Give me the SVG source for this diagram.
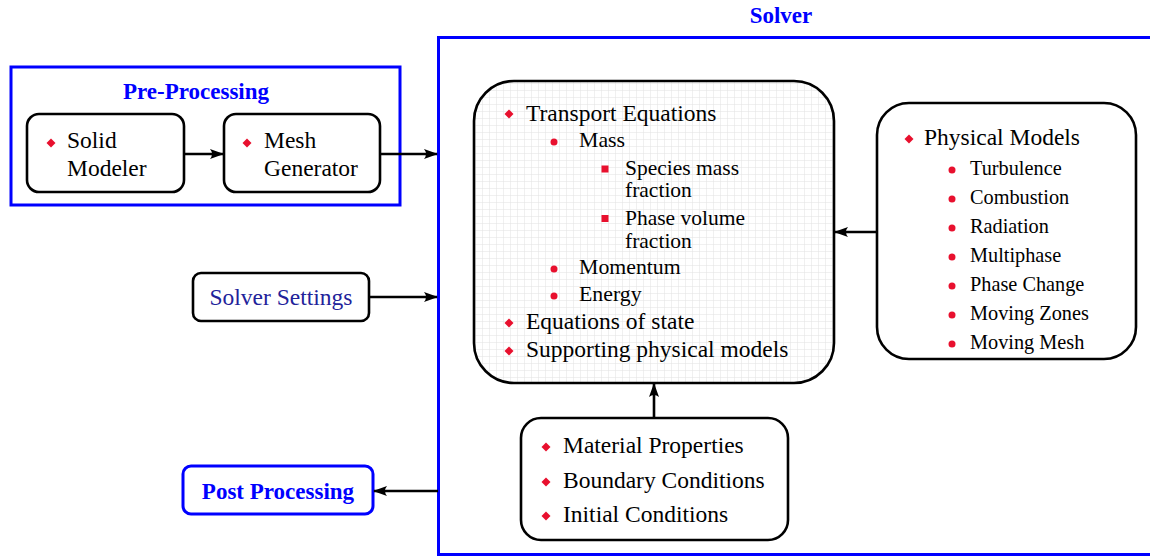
<svg xmlns="http://www.w3.org/2000/svg" width="1150" height="556" viewBox="0 0 1150 556">
  <style>
    text { font-family: "Liberation Serif", "Times New Roman", serif; fill: #000; }
    .t23 { font-size: 23.5px; }
    .t22 { font-size: 21.8px; }
    .t21 { font-size: 21.5px; }
    .t20 { font-size: 20.3px; }
    .title { font-size: 23px; font-weight: bold; fill: #0000ff; }
    .mid { text-anchor: middle; }
    .settings { font-size: 23.5px; fill: #22229a; }
    .frame { fill: none; stroke: #0000ff; stroke-width: 3; }
    .box { fill: #fff; stroke: #000; stroke-width: 2.6; }
    .bluebox { fill: #fff; stroke: #0000ff; stroke-width: 3; }
    .red { fill: #e8102e; }
    .conn { stroke: #000; stroke-width: 2.6; fill: none; marker-end: url(#arrow); }
  </style>
  <defs>
    <marker id="arrow" markerWidth="14" markerHeight="10" refX="13" refY="5" orient="auto" markerUnits="userSpaceOnUse">
      <path d="M0,0 Q4,5 0,10 L14,5 Z" fill="#000"/>
    </marker>
    <pattern id="grid" width="7" height="7" patternUnits="userSpaceOnUse">
      <rect width="7" height="7" fill="#fff"/>
      <path d="M7,0 V7 M0,7 H7" stroke="#e2e2e2" stroke-width="1"/>
    </pattern>
    <path id="dia" d="M0,-4.5 L4.5,0 L0,4.5 L-4.5,0 Z"/>
  </defs>

  <!-- Solver frame -->
  <g id="solver">
    <rect class="frame" x="438.5" y="37.5" width="730" height="517"/>
    <text class="title mid" x="781" y="23">Solver</text>
  </g>

  <!-- Pre-processing frame -->
  <g id="preprocessing">
    <rect class="frame" x="11" y="67" width="389" height="138"/>
    <text class="title mid" x="196" y="99">Pre-Processing</text>
  </g>

  <g id="solid-modeler">
    <rect class="box" x="27" y="114" width="157" height="78" rx="12"/>
    <use href="#dia" class="red" x="51" y="143"/>
    <text class="t23" x="67" y="148">Solid</text>
    <text class="t23" x="67" y="176">Modeler</text>
  </g>

  <g id="mesh-generator">
    <rect class="box" x="224" y="114" width="156" height="78" rx="12"/>
    <use href="#dia" class="red" x="247" y="143"/>
    <text class="t23" x="264" y="148">Mesh</text>
    <text class="t23" x="264" y="176">Generator</text>
  </g>

  <g id="solver-settings">
    <rect class="box" x="193" y="273" width="176" height="48" rx="8"/>
    <text class="settings mid" x="281" y="305">Solver Settings</text>
  </g>

  <g id="post-processing">
    <rect class="bluebox" x="183" y="466" width="190" height="48" rx="8"/>
    <text class="title mid" x="278" y="499">Post Processing</text>
  </g>

  <g id="transport-equations">
    <rect x="474" y="81" width="360" height="302" rx="40" fill="url(#grid)" stroke="#000" stroke-width="2.6"/>
    <use href="#dia" class="red" x="509" y="114"/>
    <text class="t23" x="526" y="121">Transport Equations</text>
    <circle class="red" cx="554" cy="142" r="3.5"/>
    <text class="t22" x="579" y="147">Mass</text>
    <rect class="red" x="601.5" y="165.5" width="7" height="7"/>
    <text class="t21" x="625" y="175">Species mass</text>
    <text class="t21" x="625" y="197">fraction</text>
    <rect class="red" x="601.5" y="215" width="7" height="7"/>
    <text class="t21" x="625" y="225">Phase volume</text>
    <text class="t21" x="625" y="248">fraction</text>
    <circle class="red" cx="554" cy="269" r="3.5"/>
    <text class="t22" x="579" y="274">Momentum</text>
    <circle class="red" cx="554" cy="296" r="3.5"/>
    <text class="t22" x="579" y="301">Energy</text>
    <use href="#dia" class="red" x="509" y="323"/>
    <text class="t23" x="526" y="329">Equations of state</text>
    <use href="#dia" class="red" x="509" y="351"/>
    <text class="t23" x="526" y="357">Supporting physical models</text>
  </g>

  <g id="physical-models">
    <rect class="box" x="877" y="103" width="259" height="256" rx="32"/>
    <use href="#dia" class="red" x="909" y="139"/>
    <text class="t23" x="924" y="145">Physical Models</text>
    <g class="red">
      <circle cx="952" cy="170" r="3.5"/>
      <circle cx="952" cy="199" r="3.5"/>
      <circle cx="952" cy="228" r="3.5"/>
      <circle cx="952" cy="257" r="3.5"/>
      <circle cx="952" cy="286" r="3.5"/>
      <circle cx="952" cy="315" r="3.5"/>
      <circle cx="952" cy="344" r="3.5"/>
    </g>
    <text class="t20" x="970" y="175">Turbulence</text>
    <text class="t20" x="970" y="204">Combustion</text>
    <text class="t20" x="970" y="233">Radiation</text>
    <text class="t20" x="970" y="262">Multiphase</text>
    <text class="t20" x="970" y="291">Phase Change</text>
    <text class="t20" x="970" y="320">Moving Zones</text>
    <text class="t20" x="970" y="349">Moving Mesh</text>
  </g>

  <g id="conditions">
    <rect class="box" x="521" y="418" width="267" height="122" rx="20"/>
    <use href="#dia" class="red" x="546" y="447"/>
    <text class="t23" x="563" y="453">Material Properties</text>
    <use href="#dia" class="red" x="546" y="482"/>
    <text class="t23" x="563" y="488">Boundary Conditions</text>
    <use href="#dia" class="red" x="546" y="516"/>
    <text class="t23" x="563" y="522">Initial Conditions</text>
  </g>

  <g id="connectors">
    <line class="conn" x1="184" y1="154" x2="223" y2="154"/>
    <line class="conn" x1="380" y1="154" x2="437" y2="154"/>
    <line class="conn" x1="369" y1="297" x2="437" y2="297"/>
    <line class="conn" x1="438" y1="491" x2="374" y2="491"/>
    <line class="conn" x1="877" y1="232" x2="835" y2="232"/>
    <line class="conn" x1="654" y1="418" x2="654" y2="384"/>
  </g>
</svg>
